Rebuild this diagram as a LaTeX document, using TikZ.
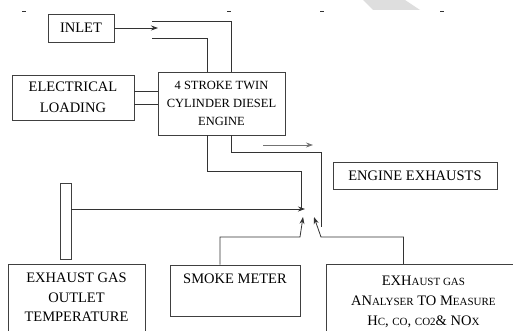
\documentclass[tikz,border=0pt]{standalone}
\usepackage{fontspec}
\setmainfont{Liberation Serif}
\usetikzlibrary{arrows.meta}
\newcommand\fakesc[1]{{\fontsize{11}{13}\selectfont\MakeUppercase{#1}}}

\begin{document}
\begin{tikzpicture}[x=1pt, y=-1pt, every node/.style={draw=black!75, line width=0.8pt, rectangle, align=center, inner sep=0pt, font=\fontsize{14.5}{19.5}\selectfont}, line/.style={draw=black!80, line width=0.8pt}, tip/.style={-{Stealth[length=7pt,width=5pt]}}]
\useasboundingbox (0,0) rectangle (513,331);
\clip (0,0) rectangle (513,331);

% page marks
\fill[black!13] (363,0) -- (405,0) -- (420,10) -- (373,10) -- cycle;
\foreach \x in {24,229,322,442} \draw[line] (\x-2,11) -- (\x+2,11);

% Nodes
\node[minimum width=66, minimum height=28] (inlet) at (81,28) {INLET};
\node[minimum width=122, minimum height=45, font=\fontsize{14.5}{21}\selectfont] (loading) at (73,97.5) {ELECTRICAL\\LOADING};
\node[minimum width=127, minimum height=63, font=\fontsize{12.5}{18}\selectfont] (engine) at (221.5,103.5) {4 STROKE TWIN\\CYLINDER DIESEL\\ENGINE};
\node[minimum width=164, minimum height=27] (exhausts) at (415,175.5) {ENGINE EXHAUSTS};
\node[minimum width=11, minimum height=76] (probe) at (65.5,221) {};
\node[minimum width=137, minimum height=86, anchor=north] (outlet) at (76.5,264) {EXHAUST GAS\\OUTLET\\TEMPERATURE\\ \mbox{}};
\node[minimum width=130, minimum height=51] (smoke) at (235,290.5) {SMOKE METER\\[5pt]\mbox{}};
\node[minimum width=194, minimum height=92, anchor=north west, font=\fontsize{14.5}{20}\selectfont] (analyser) at (326,264) {EXH\fakesc{aust gas}\\AN\fakesc{alyser} TO M\fakesc{easure}\\H\fakesc{c}, \fakesc{co}, \fakesc{co2}\& NO\fakesc{x}\\ \mbox{}};

\coordinate (inletend) at (158,28);
\coordinate (ductA) at (152,21);
\coordinate (ductB) at (152,38);
\coordinate (bendA) at (301,171);
\coordinate (bendB) at (321,152);
\coordinate (tailB) at (321,227);
\coordinate (exA) at (263,145);
\coordinate (exB) at (313,145);
\coordinate (probetip) at (305,209);
\coordinate (smokeknee) at (300,237);
\coordinate (smoketip) at (303,217);
\coordinate (gasknee) at (321,237);
\coordinate (gastip) at (314,217);

% Edges
\draw[line, tip] (inlet.east) -- (inletend);
\draw[line] (ductA) -| ([xshift=9.5pt]engine.north);
\draw[line] (ductB) -| ([xshift=-14.5pt]engine.north);
\draw[line] ([yshift=6.5pt]loading.east) -- ([yshift=6.5pt]loading.east -| engine.west);
\draw[line] ([yshift=-6.5pt]loading.east) -- ([yshift=-6.5pt]loading.east -| engine.west);
\draw[line] ([xshift=-14.5pt]engine.south) |- (bendA) -- (bendA |- probetip);
\draw[line] ([xshift=9.5pt]engine.south) |- (bendB) -- (tailB);
\draw[line, draw=black!55, tip] (exA) -- (exB);
\draw[line, tip] ([yshift=12pt]probe.east) -- (probetip);
\draw[line, tip] ([xshift=-15pt]smoke.north) |- (smokeknee) -- (smoketip);
\draw[line, tip] ([xshift=-20pt]analyser.north) |- (gasknee) -- (gastip);

\end{tikzpicture}
\end{document}
